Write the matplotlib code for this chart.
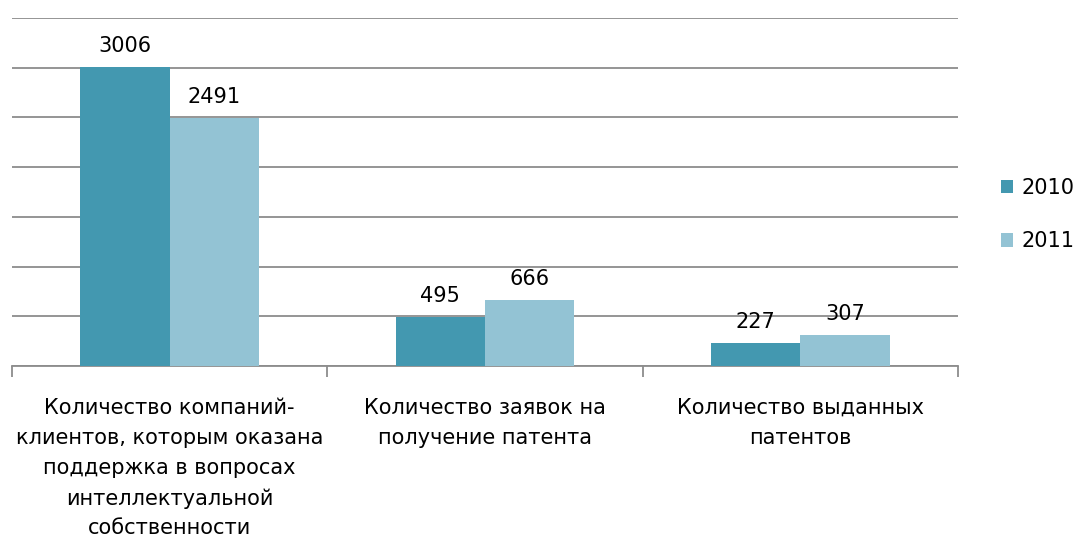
import numpy as np
import matplotlib.pyplot as plt

categories = ["Количество компаний-\nклиентов, которым оказана\nподдержка в вопросах\nинтеллектуальной\nсобственности",
              "Количество заявок на\nполучение патента",
              "Количество выданных\nпатентов"]
series_names = ["2010", "2011"]
values_2010 = [3006, 495, 227]
values_2011 = [2491, 666, 307]

col2010 = "#4398B0"
col2011 = "#93C3D4"

plt.rcParams['font.family'] = ['DejaVu Sans']

fig = plt.figure(figsize=(10.74, 5.42), dpi=100)
ax = fig.add_axes([12 / 1074, 1 - 366 / 542, 946 / 1074, 348 / 542])

x = np.arange(len(categories))
w = 0.283

b1 = ax.bar(x - w / 2, values_2010, w, color=col2010, label=series_names[0], zorder=3)
b2 = ax.bar(x + w / 2, values_2011, w, color=col2011, label=series_names[1], zorder=3)

for bars, vals in [(b1, values_2010), (b2, values_2011)]:
    for b, v in zip(bars, vals):
        ax.annotate(str(v), (b.get_x() + b.get_width() / 2, v), xytext=(0, 8),
                    textcoords="offset points", ha="center", va="bottom", fontsize=15)

ax.set_xlim(-0.5, 2.5)
ax.set_ylim(0, 3500)
ax.set_yticks(np.arange(0, 3501, 500))
ax.yaxis.grid(True, color="#8c8c8c", linewidth=1.3, zorder=0)
ax.tick_params(axis="y", left=False, labelleft=False)

for s in ["top", "right", "left"]:
    ax.spines[s].set_visible(False)
ax.spines["bottom"].set_color("#8c8c8c")
ax.spines["bottom"].set_linewidth(1.3)

ax.set_xticks(x)
ax.set_xticklabels(categories, fontsize=15, linespacing=1.62, va="top")
ax.tick_params(axis="x", length=0, pad=23)
ax.set_xticks([-0.5, 0.5, 1.5, 2.5], minor=True)
ax.tick_params(axis="x", which="minor", length=8, color="#8c8c8c", width=1.3)

ax.legend(loc="center left", bbox_to_anchor=(982 / 946 - 12 / 946, 0.435), frameon=False,
          fontsize=15, handlelength=0.6, handleheight=0.6, labelspacing=1.6, handletextpad=0.4)

fig.savefig("out.png", dpi=100)
